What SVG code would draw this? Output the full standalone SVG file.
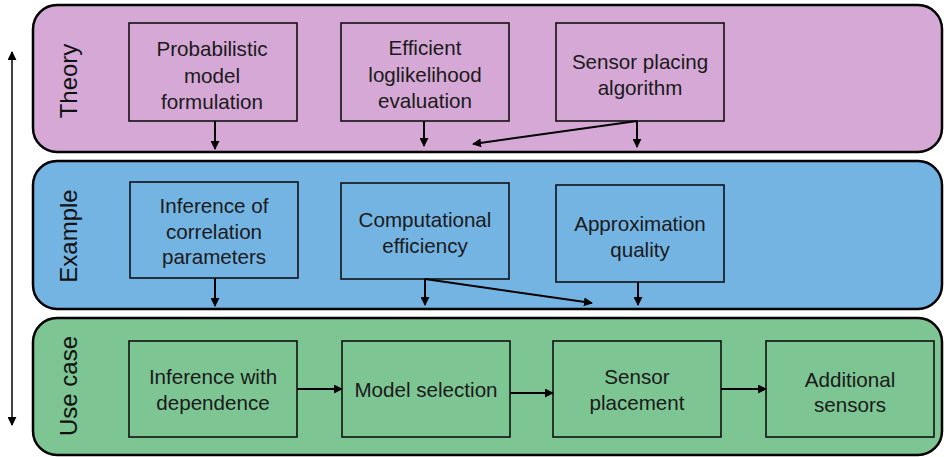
<svg xmlns="http://www.w3.org/2000/svg" width="944" height="457" viewBox="0 0 944 457">
  <style>
    .panel { stroke: #000; stroke-width: 2.5; }
    .theory { fill: #d5a8d6; }
    .example { fill: #74b4e3; }
    .usecase { fill: #7dc593; }
    .box { fill: none; stroke: #111; stroke-width: 1.6; }
    .lbl { font-family: "Liberation Sans", Arial, sans-serif; font-size: 20.6px; fill: #1a1a1a; text-anchor: middle; }
    .side { font-family: "Liberation Sans", Arial, sans-serif; font-size: 24px; fill: #111; text-anchor: middle; }
    .con { fill: none; stroke: #000; stroke-width: 2; marker-end: url(#ah); }
  </style>
  <defs>
    <marker id="ah" viewBox="0 0 10 10" refX="9" refY="5" markerWidth="4.5" markerHeight="4.5" markerUnits="strokeWidth" orient="auto">
      <path d="M0,0 L10,5 L0,10 z" fill="#000"/>
    </marker>
    <marker id="ahs" viewBox="0 0 10 10" refX="9" refY="5" markerWidth="6" markerHeight="6" markerUnits="strokeWidth" orient="auto-start-reverse">
      <path d="M0,0 L10,5 L0,10 z" fill="#000"/>
    </marker>
  </defs>

  <rect width="944" height="457" fill="#fff"/>

  <!-- Layer bands -->
  <g id="band-theory">
    <rect class="panel theory" x="33" y="5" width="909" height="147" rx="24" ry="24"/>
    <text class="side" transform="translate(77,81) rotate(-90)">Theory</text>
  </g>
  <g id="band-example">
    <rect class="panel example" x="33" y="161" width="909" height="148" rx="24" ry="24"/>
    <text class="side" transform="translate(77,236) rotate(-90)">Example</text>
  </g>
  <g id="band-usecase">
    <rect class="panel usecase" x="33" y="318" width="909" height="137" rx="24" ry="24"/>
    <text class="side" transform="translate(77,386) rotate(-90)">Use case</text>
  </g>

  <!-- Theory nodes -->
  <g id="probabilistic-model">
    <rect class="box" x="129" y="23" width="168" height="98"/>
    <text class="lbl" x="212" y="56">Probabilistic</text>
    <text class="lbl" x="212" y="83">model</text>
    <text class="lbl" x="212" y="109">formulation</text>
  </g>
  <g id="loglikelihood">
    <rect class="box" x="341" y="23" width="168" height="98"/>
    <text class="lbl" x="425" y="55">Efficient</text>
    <text class="lbl" x="425" y="82">loglikelihood</text>
    <text class="lbl" x="425" y="108">evaluation</text>
  </g>
  <g id="sensor-algorithm">
    <rect class="box" x="556" y="23" width="168" height="98"/>
    <text class="lbl" x="640" y="69">Sensor placing</text>
    <text class="lbl" x="640" y="95">algorithm</text>
  </g>

  <!-- Example nodes -->
  <g id="correlation-inference">
    <rect class="box" x="130" y="182" width="168" height="96"/>
    <text class="lbl" x="214" y="213">Inference of</text>
    <text class="lbl" x="214" y="239">correlation</text>
    <text class="lbl" x="214" y="264">parameters</text>
  </g>
  <g id="computational-efficiency">
    <rect class="box" x="341" y="183" width="168" height="96"/>
    <text class="lbl" x="425" y="227">Computational</text>
    <text class="lbl" x="425" y="253">efficiency</text>
  </g>
  <g id="approximation-quality">
    <rect class="box" x="556" y="185" width="168" height="97"/>
    <text class="lbl" x="640" y="231">Approximation</text>
    <text class="lbl" x="640" y="257">quality</text>
  </g>

  <!-- Use case nodes -->
  <g id="inference-dependence">
    <rect class="box" x="129" y="341" width="168" height="96"/>
    <text class="lbl" x="213" y="384">Inference with</text>
    <text class="lbl" x="213" y="410">dependence</text>
  </g>
  <g id="model-selection">
    <rect class="box" x="342" y="341" width="168" height="96"/>
    <text class="lbl" x="426" y="397">Model selection</text>
  </g>
  <g id="sensor-placement">
    <rect class="box" x="553" y="341" width="168" height="96"/>
    <text class="lbl" x="637" y="384">Sensor</text>
    <text class="lbl" x="637" y="410">placement</text>
  </g>
  <g id="additional-sensors">
    <rect class="box" x="766" y="341" width="168" height="96"/>
    <text class="lbl" x="850" y="387">Additional</text>
    <text class="lbl" x="850" y="412">sensors</text>
  </g>

  <!-- Connectors -->
  <g id="connectors">
    <line x1="12" y1="52" x2="12" y2="425" stroke="#000" stroke-width="1.5" marker-start="url(#ahs)" marker-end="url(#ahs)"/>
    <line class="con" x1="215" y1="121" x2="215" y2="149"/>
    <line class="con" x1="424" y1="121" x2="424" y2="146"/>
    <line class="con" x1="637" y1="121" x2="637" y2="147"/>
    <line class="con" x1="637" y1="121" x2="473" y2="144"/>
    <line class="con" x1="215" y1="278" x2="215" y2="306"/>
    <line class="con" x1="425" y1="279" x2="425" y2="305"/>
    <line class="con" x1="425" y1="279" x2="592" y2="303"/>
    <line class="con" x1="638" y1="282" x2="638" y2="305"/>
    <line class="con" x1="297" y1="389" x2="342" y2="389"/>
    <line class="con" x1="510" y1="393" x2="553" y2="393"/>
    <line class="con" x1="721" y1="389" x2="766" y2="389"/>
  </g>
</svg>
